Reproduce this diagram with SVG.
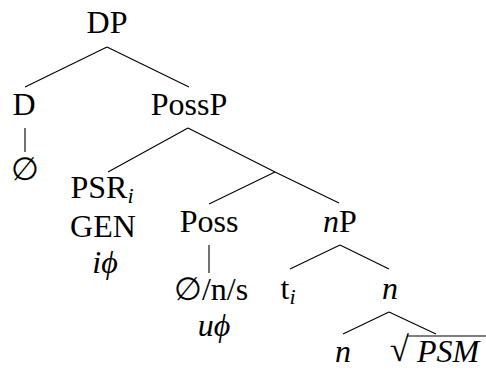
<svg xmlns="http://www.w3.org/2000/svg" width="486" height="370" viewBox="0 0 486 370">
  <style>
    text { font-family: 'Liberation Serif', 'Times New Roman', Times, 'DejaVu Serif', serif; font-size: 32px; fill: #000; text-anchor: middle; }
    .it { font-style: italic; }
    .sub { font-size: 22px; font-style: italic; }
    .sym { font-family: 'DejaVu Serif', 'Liberation Serif', serif; }
    .rad { font-size: 35px; text-anchor: end; }
    .edge { stroke: #000; stroke-width: 1.1; fill: none; }
  </style>
  <rect width="486" height="370" fill="#fff"/>

  <g id="connectors">
    <!-- DP -->
    <line class="edge" x1="107" y1="47" x2="25" y2="87"/>
    <line class="edge" x1="107" y1="47" x2="189" y2="87"/>
    <!-- D to null -->
    <line class="edge" x1="25" y1="128" x2="25" y2="152"/>
    <!-- PossP -->
    <line class="edge" x1="188" y1="128" x2="108" y2="172"/>
    <line class="edge" x1="188" y1="128" x2="275" y2="172"/>
    <!-- Poss' (unlabelled) -->
    <line class="edge" x1="275" y1="172" x2="209" y2="204"/>
    <line class="edge" x1="275" y1="172" x2="339" y2="203"/>
    <!-- Poss to exponent -->
    <line class="edge" x1="209" y1="245" x2="209" y2="273"/>
    <!-- nP -->
    <line class="edge" x1="340" y1="245" x2="290" y2="269"/>
    <line class="edge" x1="340" y1="245" x2="389" y2="269"/>
    <!-- n -->
    <line class="edge" x1="389" y1="312" x2="343" y2="334"/>
    <line class="edge" x1="389" y1="312" x2="436" y2="334"/>
  </g>

  <g id="node-DP"><text x="107" y="33">DP</text></g>
  <g id="node-D"><text x="24" y="115">D</text></g>
  <g id="node-D-null"><text class="sym" x="25" y="180">∅</text></g>
  <g id="node-PossP"><text x="189" y="115">PossP</text></g>
  <g id="node-PSR">
    <text x="102" y="198">PSR<tspan class="sub" dy="5">i</tspan></text>
    <text x="103" y="237">GEN</text>
    <text class="it" x="105" y="273">iϕ</text>
  </g>
  <g id="node-Poss">
    <text x="209" y="232">Poss</text>
    <text x="211" y="300"><tspan class="sym">∅</tspan>/n/s</text>
    <text class="it" x="214" y="336">uϕ</text>
  </g>
  <g id="node-nP"><text x="340" y="232"><tspan class="it">n</tspan>P</text></g>
  <g id="node-t"><text x="288" y="299">t<tspan class="sub" dy="5">i</tspan></text></g>
  <g id="node-n"><text class="it" x="390" y="299">n</text></g>
  <g id="node-n-head"><text class="it" x="343" y="362">n</text></g>
  <g id="node-root">
    <text class="rad" x="409" y="361">√</text>
    <line class="edge" x1="407" y1="336" x2="486" y2="336"/>
    <text class="it" x="448" y="362">PSM</text>
  </g>
</svg>
